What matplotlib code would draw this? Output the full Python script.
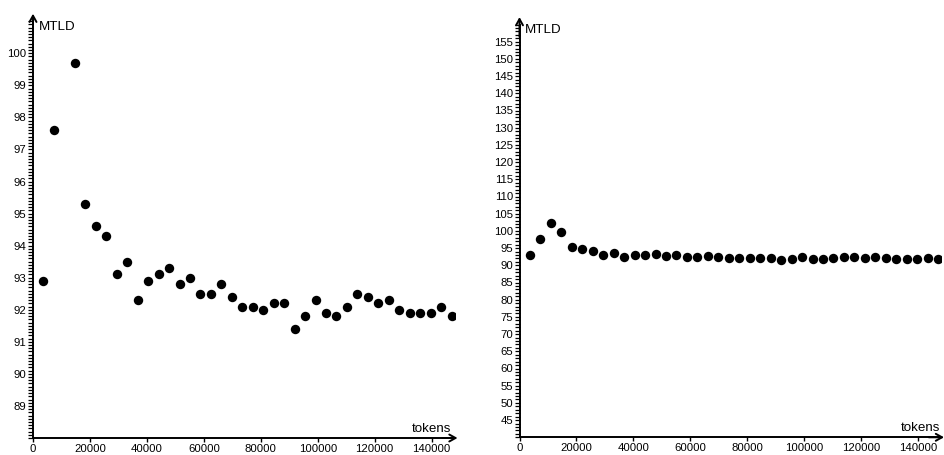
import matplotlib
matplotlib.use("Agg")
import matplotlib.pyplot as plt
from matplotlib.ticker import FixedLocator, MultipleLocator

plt.rcParams['font.family'] = ['Liberation Sans', 'DejaVu Sans']

tokens = [3675, 7350, 11025, 14700, 18375, 22050, 25725, 29400, 33075, 36750,
          40425, 44100, 47775, 51450, 55125, 58800, 62475, 66150, 69825, 73500,
          77175, 80850, 84525, 88200, 91875, 95550, 99225, 102900, 106575, 110250,
          113925, 117600, 121275, 124950, 128625, 132300, 135975, 139650, 143325, 147000]
mtld = [92.9, 97.6, 102.2, 99.7, 95.3, 94.6, 94.3, 93.1, 93.5, 92.3,
        92.9, 93.1, 93.3, 92.8, 93.0, 92.5, 92.5, 92.8, 92.4, 92.1,
        92.1, 92.0, 92.2, 92.2, 91.4, 91.8, 92.3, 91.9, 91.8, 92.1,
        92.5, 92.4, 92.2, 92.3, 92.0, 91.9, 91.9, 91.9, 92.1, 91.8]

xticks = [0, 20000, 40000, 60000, 80000, 100000, 120000, 140000]
left_yticks = [89, 90, 91, 92, 93, 94, 95, 96, 97, 98, 99, 100]
right_yticks = [45, 50, 55, 60, 65, 70, 75, 80, 85, 90, 95, 100, 105, 110,
                115, 120, 125, 130, 135, 140, 145, 150, 155]

W, H = 944, 455
fig = plt.figure(figsize=(W / 100, H / 100), dpi=100)


def make_axes(x0, x1, ybot, ytop):
    return fig.add_axes([x0 / W, (H - ybot) / H, (x1 - x0) / W, (ybot - ytop) / H])


def style(ax, ylim, yticks, yminor, xmax):
    ax.set_xlim(0, xmax)
    ax.set_ylim(*ylim)
    for s in ['top', 'right']:
        ax.spines[s].set_visible(False)
    for s in ['left', 'bottom']:
        ax.spines[s].set_linewidth(1.4)
        ax.spines[s].set_color('black')
    ax.xaxis.set_major_locator(FixedLocator(xticks))
    ax.set_xticklabels([str(v) for v in xticks])
    ax.yaxis.set_major_locator(FixedLocator(yticks))
    ax.set_yticklabels([str(v) for v in yticks])
    ax.yaxis.set_minor_locator(MultipleLocator(yminor))
    ax.tick_params(axis='x', which='major', direction='out', length=3.0, width=1.0,
                   pad=1.2, labelsize=8.2)
    ax.tick_params(axis='y', which='both', direction='out', length=3.6, width=0.9,
                   pad=1, labelsize=8.2)
    ax.patch.set_visible(False)
    # axis arrows
    ax.annotate('', xy=(1.006, 0), xytext=(0.97, 0), xycoords='axes fraction',
                arrowprops=dict(arrowstyle='->,head_length=0.45,head_width=0.25', lw=1.4,
                                color='black', shrinkA=0, shrinkB=0), annotation_clip=False)
    ax.annotate('', xy=(0, 1.018), xytext=(0, 0.97), xycoords='axes fraction',
                arrowprops=dict(arrowstyle='->,head_length=0.45,head_width=0.25', lw=1.4,
                                color='black', shrinkA=0, shrinkB=0), annotation_clip=False)


ax1 = make_axes(33, 455, 438, 21.2)
style(ax1, (88, 101), left_yticks, 0.1, 148200)
ax1.scatter(tokens, mtld, s=46, color='black', zorder=3, linewidths=0)
fig.text(39 / W, 1 - 27 / H, 'MTLD', fontsize=9.6, va='center', ha='left')
fig.text(451 / W, 1 - 429 / H, 'tokens', fontsize=9.6, va='center', ha='right')

ax2 = make_axes(519.5, 941.5, 437.3, 24.5)
style(ax2, (40, 160), right_yticks, 1, 148200)
ax2.scatter(tokens, mtld, s=46, color='black', zorder=3, linewidths=0)
fig.text(525 / W, 1 - 30 / H, 'MTLD', fontsize=9.6, va='center', ha='left')
fig.text(940 / W, 1 - 428 / H, 'tokens', fontsize=9.6, va='center', ha='right')

fig.savefig('out.png', dpi=100)
